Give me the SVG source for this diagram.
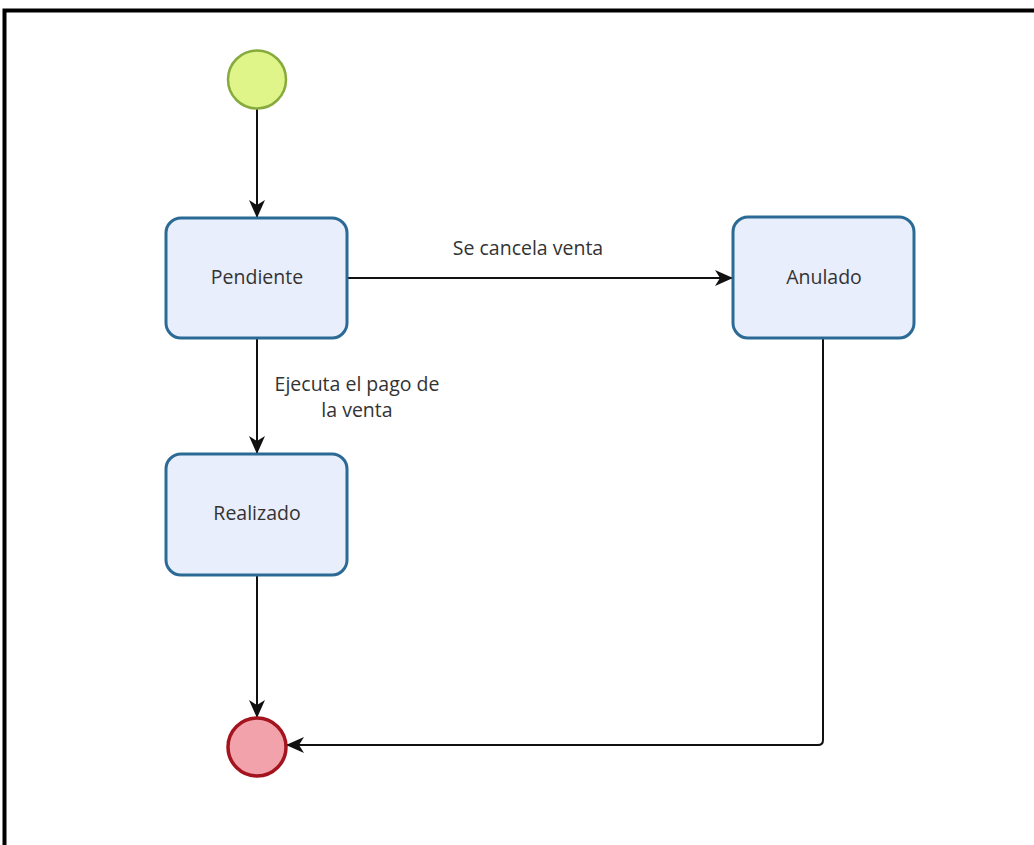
<svg xmlns="http://www.w3.org/2000/svg" width="1034" height="845" viewBox="0 0 1034 845">
  <style>
    .state { fill: #e9eefc; stroke: #2b6a94; stroke-width: 3; }
    .label { font-family: "Open Sans", "Noto Sans", sans-serif; font-size: 19.5px; fill: #333333; text-anchor: middle; }
    .edge { fill: none; stroke: #111111; stroke-width: 2; }
  </style>
  <defs>
    <marker id="arrow" viewBox="0 0 18 18" refX="17" refY="9" markerWidth="18" markerHeight="18" markerUnits="userSpaceOnUse" orient="auto">
      <path d="M0,1 L18,9 L0,17 L5,9 Z" fill="#111111"/>
    </marker>
  </defs>

  <rect width="1034" height="845" fill="#ffffff"/>
  <!-- page frame -->
  <path d="M4.5,845 L4.5,10.5 L1034,10.5" fill="none" stroke="#000000" stroke-width="4"/>

  <!-- connectors -->
  <g id="connectors">
    <path class="edge" d="M257,109 L257,217" marker-end="url(#arrow)"/>
    <path class="edge" d="M348,278 L732,278" marker-end="url(#arrow)"/>
    <path class="edge" d="M257,338 L257,453" marker-end="url(#arrow)"/>
    <path class="edge" d="M257,576 L257,717" marker-end="url(#arrow)"/>
    <path class="edge" d="M823,338 L823,740 Q823,745 818,745 L287,745" marker-end="url(#arrow)"/>
    <text class="label" x="528" y="255">Se cancela venta</text>
    <text class="label" x="357" y="391">Ejecuta el pago de</text>
    <text class="label" x="357" y="417">la venta</text>
  </g>

  <g id="start">
    <circle cx="257" cy="79.5" r="29" fill="#dff58a" stroke="#86ab3c" stroke-width="2.5"/>
  </g>

  <g id="pendiente">
    <rect class="state" x="166" y="218" width="181" height="120" rx="15"/>
    <text class="label" x="257" y="284">Pendiente</text>
  </g>

  <g id="anulado">
    <rect class="state" x="733" y="217" width="181" height="121" rx="15"/>
    <text class="label" x="824" y="284">Anulado</text>
  </g>

  <g id="realizado">
    <rect class="state" x="166" y="454" width="181" height="121" rx="15"/>
    <text class="label" x="257" y="520">Realizado</text>
  </g>

  <g id="end">
    <circle cx="257" cy="747" r="29" fill="#f2a2aa" stroke="#a3141f" stroke-width="3.5"/>
  </g>
</svg>
